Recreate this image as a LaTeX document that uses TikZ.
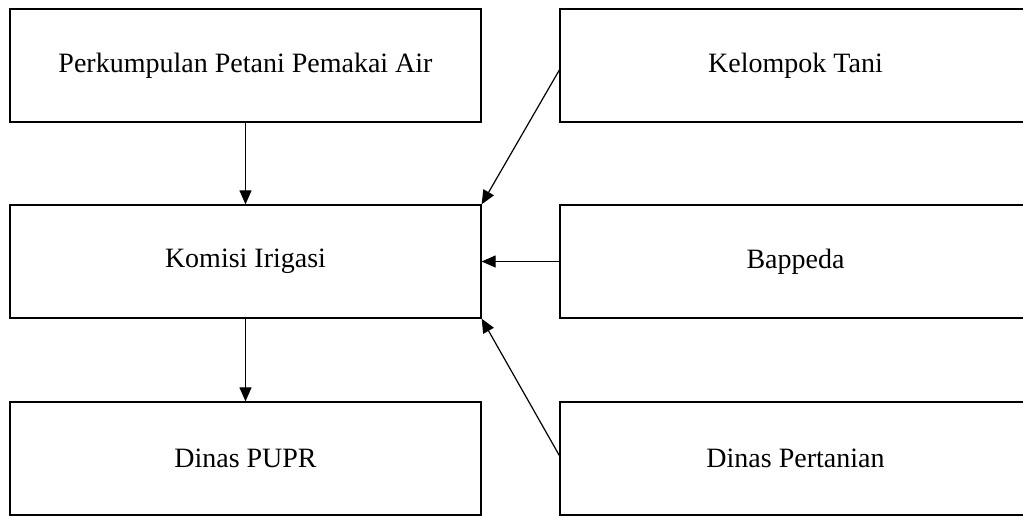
\documentclass[tikz,border=0pt]{standalone}
\usepackage{fontspec}
\setmainfont{Liberation Serif}
\usetikzlibrary{arrows.meta}
\begin{document}
\begin{tikzpicture}[x=1pt,y=-1pt,
  box/.style={draw,line width=1.3pt,minimum width=471pt,minimum height=113pt,inner sep=0pt,
    font=\fontsize{28}{34}\selectfont},
  conn/.style={line width=1.2pt,-{Triangle[length=14pt,width=12pt]}}]
\useasboundingbox (0,0) rectangle (1023,515);
\node[box] (ppa) at (245.5,65.5) {Perkumpulan Petani Pemakai Air};
\node[box] (ki) at (245.5,261.5) {Komisi Irigasi};
\node[box] (pupr) at (245.5,458.5) {Dinas PUPR};
\node[box] (kt) at (795.5,65.5) {Kelompok Tani};
\node[box] (bap) at (795.5,261.5) {Bappeda};
\node[box] (dp) at (795.5,458.5) {Dinas Pertanian};
\draw[conn] (ppa.south) -- (ki.north);
\draw[conn] (ki.south) -- (pupr.north);
\draw[conn] ([yshift=-4.5pt]kt.west) -- (ki.north east);
\draw[conn] (bap.west) -- (ki.east);
\draw[conn] ([yshift=3pt]dp.west) -- (ki.south east);
\end{tikzpicture}
\end{document}
